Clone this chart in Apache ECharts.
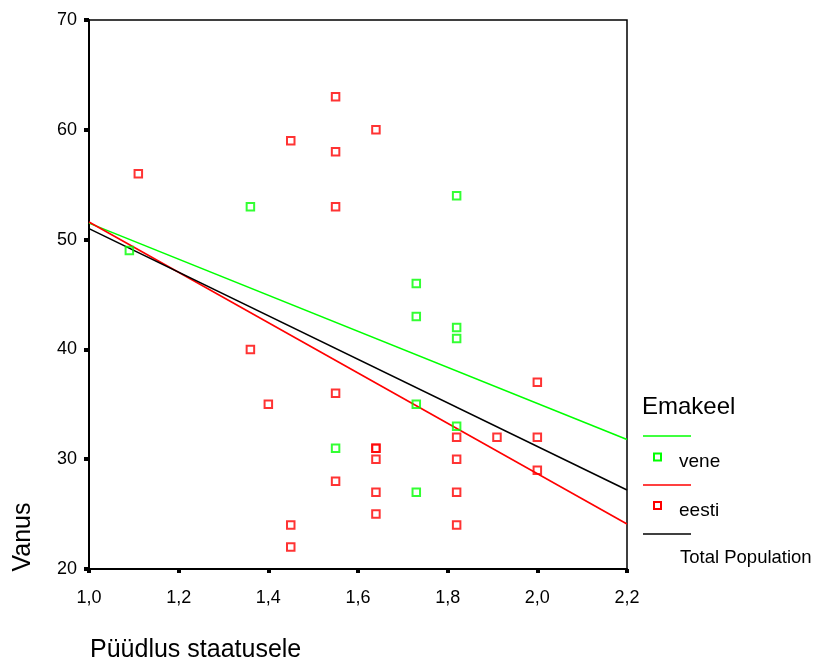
<!DOCTYPE html>
<html>
<head>
<meta charset="utf-8">
<script src="https://cdn.jsdelivr.net/npm/echarts@6/dist/echarts.min.js"></script>
<style>
html,body{margin:0;padding:0;background:#fff;}
#chart{width:817px;height:664px;}
</style>
</head>
<body>
<div id="chart"></div>
<script>
// Data
var veneX = [1.09, 1.36, 1.55, 1.73, 1.73, 1.73, 1.73, 1.82, 1.82, 1.82, 1.82];
var veneY = [49, 53, 31, 46, 43, 35, 27, 54, 42, 41, 33];
var eestiX = [1.11, 1.36, 1.40, 1.45, 1.45, 1.45, 1.55, 1.55, 1.55, 1.55, 1.55, 1.64, 1.64, 1.64, 1.64, 1.64, 1.64, 1.82, 1.82, 1.82, 1.82, 1.91, 2.00, 2.00, 2.00];
var eestiY = [56, 40, 35, 59, 24, 22, 63, 58, 53, 36, 28, 60, 31, 31, 30, 27, 25, 32, 30, 27, 24, 32, 37, 32, 29];
var fitX = [1.0, 2.2];
var veneFit = [51.5, 31.8];
var eestiFit = [51.6, 24.1];
var totalFit = [51.0, 27.2];
var xTicks = ['1,0', '1,2', '1,4', '1,6', '1,8', '2,0', '2,2'];
var yTicks = ['20', '30', '40', '50', '60', '70'];
var legendTitle = 'Emakeel';
var legendNames = ['vene', 'eesti', 'Total Population'];
var xTitle = 'Püüdlus staatusele';
var yTitle = 'Vanus';

function pairs(xs, ys) { return xs.map(function (x, i) { return [x, ys[i]]; }); }

var FONT = "'Liberation Sans', Arial, Helvetica, sans-serif";
var GREEN = '#00ff00', RED = '#ff0000', BLACK = '#000000';

var chart = echarts.init(document.getElementById('chart'), null, {renderer: 'canvas'});

function pointSeries(name, xs, ys, color) {
  return {
    name: name, type: 'scatter', data: pairs(xs, ys), symbol: 'rect', symbolSize: 7.5, z: 3,
    itemStyle: {color: 'rgba(255,255,255,0)', borderColor: color, borderWidth: 2}
  };
}
function fitSeries(name, ys, color) {
  return {
    name: name, type: 'line', data: pairs(fitX, ys), showSymbol: false, z: 2,
    lineStyle: {color: color, width: 1.6}, silent: true
  };
}

var option = {
  animation: false,
  backgroundColor: '#fff',
  textStyle: {fontFamily: FONT},
  grid: {left: 89, right: 190, top: 20, bottom: 95, show: true, borderColor: '#000', borderWidth: 1.5, backgroundColor: 'transparent'},
  xAxis: {
    type: 'value', min: 1.0, max: 2.2, interval: 0.2,
    axisLine: {show: true, onZero: false, lineStyle: {color: '#000', width: 2}},
    axisTick: {show: true, length: 4, lineStyle: {color: '#000', width: 4}},
    splitLine: {show: false},
    axisLabel: {
      margin: 20, color: '#000', fontSize: 18, fontFamily: FONT,
      formatter: function (v) { return xTicks[Math.round((v - 1.0) / 0.2)]; }
    }
  },
  yAxis: {
    type: 'value', min: 20, max: 70, interval: 10,
    axisLine: {show: true, onZero: false, lineStyle: {color: '#000', width: 2}},
    axisTick: {show: true, length: 5, lineStyle: {color: '#000', width: 4}},
    splitLine: {show: false},
    axisLabel: {
      margin: 12, color: '#000', fontSize: 18, fontFamily: FONT,
      formatter: function (v) { return yTicks[Math.round((v - 20) / 10)]; }
    }
  },
  series: [
    fitSeries('vene fit', veneFit, GREEN),
    fitSeries('eesti fit', eestiFit, RED),
    fitSeries('Total Population', totalFit, BLACK),
    pointSeries('vene', veneX, veneY, GREEN),
    pointSeries('eesti', eestiX, eestiY, RED)
  ],
  graphic: [
    {type: 'text', left: 90, top: 638, style: {text: xTitle, fontSize: 25, fontFamily: FONT, fill: '#000'}},
    {type: 'text', x: 23, y: 537, rotation: Math.PI / 2, style: {text: yTitle, fontSize: 25, fontFamily: FONT, fill: '#000', align: 'center', verticalAlign: 'middle'}},
    {type: 'text', x: 642, y: 407, style: {text: legendTitle, fontSize: 24, fontFamily: FONT, fill: '#000', align: 'left', verticalAlign: 'middle'}},
    {type: 'line', shape: {x1: 643, y1: 436, x2: 691, y2: 436}, style: {stroke: GREEN, lineWidth: 1.5}},
    {type: 'rect', shape: {x: 654, y: 453.5, width: 7, height: 7}, style: {fill: 'none', stroke: GREEN, lineWidth: 2}},
    {type: 'text', x: 679, y: 462, style: {text: legendNames[0], fontSize: 19, fontFamily: FONT, fill: '#000', align: 'left', verticalAlign: 'middle'}},
    {type: 'line', shape: {x1: 643, y1: 485, x2: 691, y2: 485}, style: {stroke: RED, lineWidth: 1.5}},
    {type: 'rect', shape: {x: 654, y: 502, width: 7, height: 7}, style: {fill: 'none', stroke: RED, lineWidth: 2}},
    {type: 'text', x: 679, y: 511, style: {text: legendNames[1], fontSize: 19, fontFamily: FONT, fill: '#000', align: 'left', verticalAlign: 'middle'}},
    {type: 'line', shape: {x1: 643, y1: 534, x2: 691, y2: 534}, style: {stroke: BLACK, lineWidth: 1.5}},
    {type: 'text', x: 680, y: 558, style: {text: legendNames[2], fontSize: 18.5, fontFamily: FONT, fill: '#000', align: 'left', verticalAlign: 'middle'}}
  ]
};
chart.setOption(option);
</script>
</body>
</html>
